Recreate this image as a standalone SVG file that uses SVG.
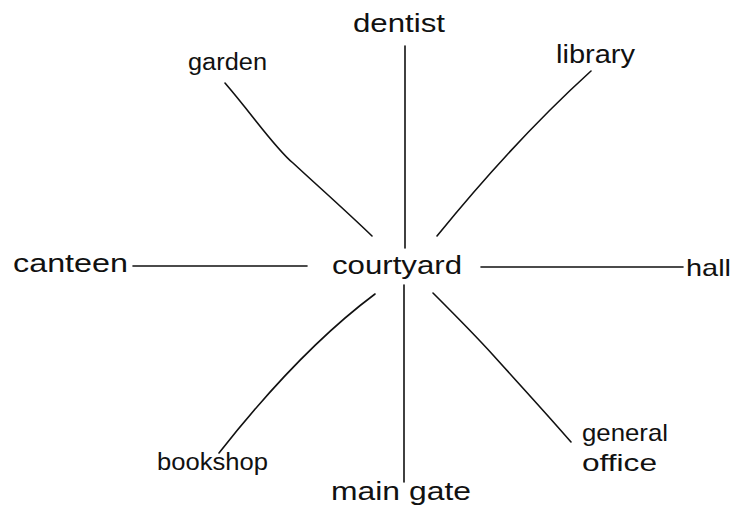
<svg xmlns="http://www.w3.org/2000/svg" width="733" height="516" viewBox="0 0 733 516">
<style>
  text { font-family: "Liberation Sans", Arial, sans-serif; font-size: 26px; fill: #111; }
  .s { font-size: 23px; }
  .m { font-size: 24px; }
  .c { fill: none; stroke: #111; stroke-width: 1.6; stroke-linecap: round; }
</style>
<rect width="733" height="516" fill="#fff"/>
<g id="connectors">
  <line class="c" x1="405" y1="46" x2="405" y2="248"/>
  <line class="c" x1="404" y1="285" x2="404" y2="482"/>
  <line class="c" x1="133" y1="266" x2="307" y2="266"/>
  <line class="c" x1="481" y1="267" x2="683" y2="267"/>
  <path class="c" d="M225,83 C255,118 275,148 293,163 C320,188 345,210 372,236"/>
  <path class="c" d="M591,71 Q515,140 437,236"/>
  <path class="c" d="M375,294 Q300,350 219,453"/>
  <path class="c" d="M433,293 C455,315 475,335 493,355 C520,385 545,412 571,442"/>
</g>
<g id="courtyard"><text x="332" y="274" textLength="130" lengthAdjust="spacingAndGlyphs">courtyard</text></g>
<g id="dentist"><text x="353" y="32" textLength="92" lengthAdjust="spacingAndGlyphs">dentist</text></g>
<g id="garden"><text class="s" x="188" y="70" textLength="79" lengthAdjust="spacingAndGlyphs">garden</text></g>
<g id="library"><text x="556" y="63" textLength="79" lengthAdjust="spacingAndGlyphs">library</text></g>
<g id="canteen"><text x="13" y="272" textLength="115" lengthAdjust="spacingAndGlyphs">canteen</text></g>
<g id="hall"><text class="m" x="686" y="276" textLength="45" lengthAdjust="spacingAndGlyphs">hall</text></g>
<g id="bookshop"><text class="s" x="157" y="470" textLength="111" lengthAdjust="spacingAndGlyphs">bookshop</text></g>
<g id="main-gate"><text x="331" y="500" textLength="140" lengthAdjust="spacingAndGlyphs">main gate</text></g>
<g id="general-office">
  <text class="m" x="582" y="441" textLength="86" lengthAdjust="spacingAndGlyphs">general</text>
  <text class="m" x="582" y="471" textLength="75" lengthAdjust="spacingAndGlyphs">office</text>
</g>
</svg>
